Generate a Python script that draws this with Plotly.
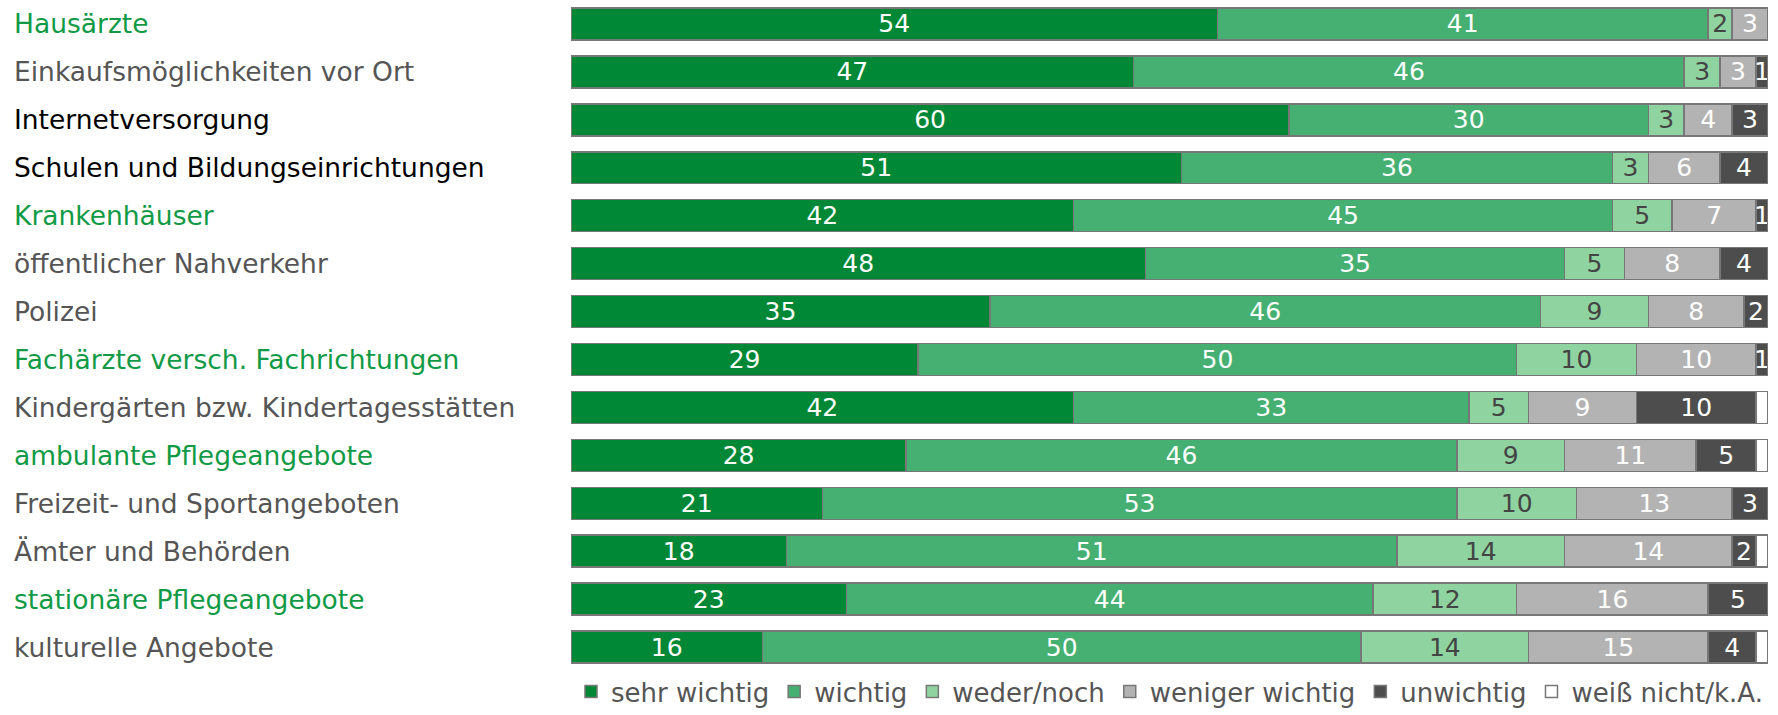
import plotly.graph_objects as go

categories = ["Hausärzte", "Einkaufsmöglichkeiten vor Ort", "Internetversorgung",
              "Schulen und Bildungseinrichtungen", "Krankenhäuser", "öffentlicher Nahverkehr",
              "Polizei", "Fachärzte versch. Fachrichtungen", "Kindergärten bzw. Kindertagesstätten",
              "ambulante Pflegeangebote", "Freizeit- und Sportangeboten", "Ämter und Behörden",
              "stationäre Pflegeangebote", "kulturelle Angebote"]
label_colors = ["#119a45", "#555555", "#000000", "#000000", "#119a45", "#555555", "#555555",
                "#119a45", "#555555", "#119a45", "#555555", "#555555", "#119a45", "#555555"]

sehr_wichtig = [54, 47, 60, 51, 42, 48, 35, 29, 42, 28, 21, 18, 23, 16]
wichtig = [41, 46, 30, 36, 45, 35, 46, 50, 33, 46, 53, 51, 44, 50]
weder_noch = [2, 3, 3, 3, 5, 5, 9, 10, 5, 9, 10, 14, 12, 14]
weniger_wichtig = [3, 3, 4, 6, 7, 8, 8, 10, 9, 11, 13, 14, 16, 15]
unwichtig = [0, 1, 3, 4, 1, 4, 2, 1, 10, 5, 3, 2, 5, 4]
weiss_nicht = [0, 0, 0, 0, 0, 0, 0, 0, 1, 1, 0, 1, 0, 1]

series = [
    ("sehr wichtig", sehr_wichtig, "#008837", "white"),
    ("wichtig", wichtig, "#45b072", "white"),
    ("weder/noch", weder_noch, "#8fd4a0", "#444444"),
    ("weniger wichtig", weniger_wichtig, "#b3b3b3", "white"),
    ("unwichtig", unwichtig, "#4d4d4d", "white"),
    ("weiß nicht/k.A.", weiss_nicht, "#ffffff", "white"),
]

fig = go.Figure()
for name, vals, col, tcol in series:
    texts = [("" if (v == 0 or name.startswith("weiß")) else str(v)) for v in vals]
    fig.add_trace(go.Bar(
        y=categories, x=vals, name=name, orientation="h",
        marker=dict(color=col, line=dict(color="#777777", width=1.5)),
        text=texts, textposition="inside", insidetextanchor="middle",
        constraintext="none", textangle=0,
        textfont=dict(color=tcol, size=25, family="DejaVu Sans"),
        hoverinfo="skip",
    ))

for cat, lc in zip(categories, label_colors):
    fig.add_annotation(x=-0.4670, y=cat, xref="paper", yref="y", text=cat,
                       showarrow=False, xanchor="left", yanchor="middle",
                       font=dict(size=26.5, color=lc, family="DejaVu Sans"))

fig.update_layout(
    width=1778, height=715,
    margin=dict(l=571, r=10, t=0, b=0, pad=0),
    barmode="stack", bargap=0.333,
    plot_bgcolor="white", paper_bgcolor="white",
    xaxis=dict(range=[0, 100], visible=False, fixedrange=True),
    yaxis=dict(autorange="reversed", showticklabels=False, showgrid=False,
               zeroline=False, fixedrange=True, domain=[0.0615, 1.0]),
    legend=dict(orientation="h", x=1.0, xanchor="right", y=0.0, yanchor="bottom",
                font=dict(size=26, color="#555555", family="DejaVu Sans"),
                itemwidth=30, traceorder="normal", tracegroupgap=0),
    showlegend=True,
)

fig.write_html("out.html")
